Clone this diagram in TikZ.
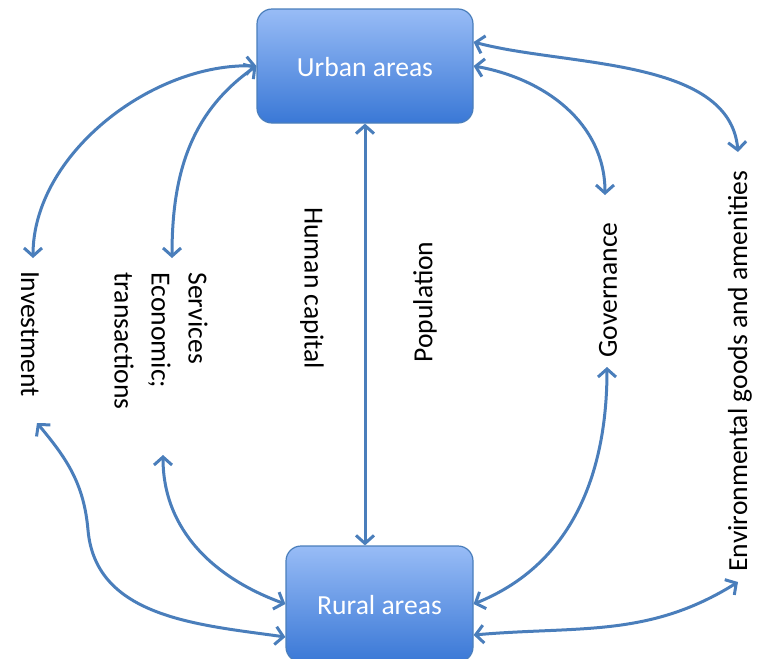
\documentclass[tikz,border=0pt]{standalone}
\usepackage{fontspec}
\setmainfont{Carlito}
\usetikzlibrary{arrows.meta,calc}

\definecolor{linkblue}{RGB}{74,126,187}
\definecolor{boxtop}{RGB}{152,188,246}
\definecolor{boxbot}{RGB}{58,120,214}

\begin{document}
\begin{tikzpicture}[x=0.5pt,y=0.5pt,>={Straight Barb[length=4pt,width=9pt]},
  area/.style={draw=linkblue,line width=0.6pt,rounded corners=7.5pt,
    top color=boxtop,bottom color=boxbot,text=white,text height=1.1em,
    font=\fontsize{13.8}{18.5}\selectfont},
  flow/.style={font=\fontsize{13.8}{18.5}\selectfont,inner sep=0pt},
  link/.style={<->,linkblue,line width=1.5pt}]
  \useasboundingbox (0,0) rectangle (761,-659);

  % the two areas
  \node[area,minimum width=108pt,minimum height=57pt] (urban) at (365,-66) {Urban areas};
  \node[area,minimum width=93.5pt,minimum height=58pt] (rural) at (379.5,-604) {Rural areas};

  % flows between them
  \node[flow,rotate=-90] (invest) at (30,-334) {Investment};
  \node[flow,rotate=-90,align=left] (services) at (161,-341) {Services\\Economic;\\transactions};
  \node[flow,rotate=-90] (humancap) at (312,-288) {Human capital};
  \node[flow,rotate=90] (population) at (425,-302) {Population};
  \node[flow,rotate=90] (governance) at (608,-290) {Governance};
  \node[flow,rotate=90] (environ) at (740,-371) {Environmental goods and amenities};

  % free ends of the arrows
  \coordinate (invtop) at (33,-258);
  \coordinate (invbot) at (37,-423);
  \coordinate (invbend) at (88,-530);
  \coordinate (servtop) at (172,-258);
  \coordinate (servbot) at (163,-455);
  \coordinate (govtop) at (605,-195);
  \coordinate (govbot) at (607,-367);
  \coordinate (envtop) at (738,-152);
  \coordinate (envbot) at (738,-582);

  \draw[link] (urban.south) -- (urban.south |- rural.north);
  \draw[link] (urban.west) to[out=178,in=90,looseness=0.9] (invtop);
  \draw[link] (urban.west) to[out=215,in=90] (servtop);
  \draw[link] ($(urban.east)+(0,24)$) to[out=-15,in=95,looseness=0.85] (envtop);
  \draw[link] (urban.east) to[out=-10,in=90] (govtop);
  \draw[link] (rural.east) to[out=22,in=-90] (govbot);
  \draw[link] ($(rural.east)+(0,-31)$) to[out=5,in=212] (envbot);
  \draw[link] (rural.west) to[out=160,in=-90] (servbot);
  \draw[link] ($(rural.west)+(0,-33)$) to[out=172,in=-85] (invbend)
    to[out=95,in=-50] (invbot);
\end{tikzpicture}
\end{document}
